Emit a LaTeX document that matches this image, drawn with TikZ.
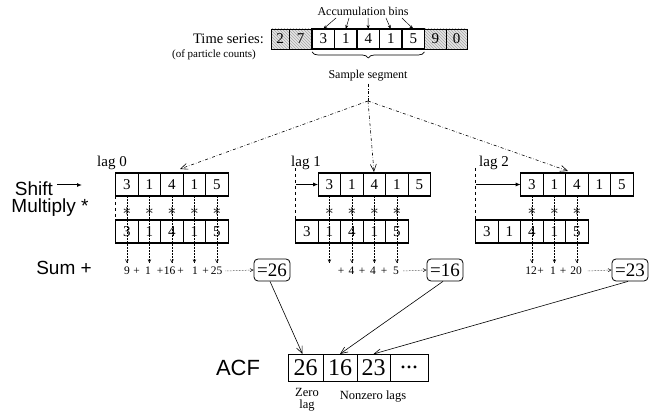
\documentclass[tikz,border=0pt]{standalone}
\usepackage{fontspec}
\setmainfont{Liberation Serif}
\setsansfont{Liberation Sans}
\usetikzlibrary{patterns,decorations.pathreplacing,arrows.meta}
\newcommand{\fsz}[1]{\fontsize{#1}{#1}\selectfont}
\tikzset{
  hcell/.style={draw,line width=0.5pt,preaction={fill=gray!20},pattern=north west lines,pattern color=gray!70,minimum height=20pt,inner sep=0pt,outer sep=0pt,font=\fsz{15}},
  scell/.style={draw,line width=1.1pt,minimum width=22.5pt,minimum height=20pt,inner sep=0pt,outer sep=0pt,font=\fsz{15}},
  cell/.style={draw,line width=1.1pt,minimum width=22.5pt,minimum height=23pt,inner sep=0pt,outer sep=0pt,font=\fsz{15}},
  acfcell/.style={draw,line width=0.8pt,minimum height=27pt,inner sep=0pt,outer sep=0pt,font=\fsz{24}},
  sumbox/.style={draw,line width=0.8pt,rounded corners=4pt,minimum width=36pt,minimum height=22pt,inner sep=1pt,font=\fsz{19}},
  val/.style={inner sep=0pt,font=\fsz{11.5}},
  side/.style={inner sep=1pt,font=\sffamily\fsz{19}},
  lagl/.style={inner sep=0pt,font=\fsz{15}},
  small/.style={inner sep=0pt,font=\fsz{12}},
  accarr/.style={line width=0.5pt,-{Stealth[length=4pt,width=3pt]}},
  shiftarr/.style={line width=1pt,-{Latex[length=5pt,width=4pt]}},
  dotarr/.style={densely dotted,line width=0.5pt,-{Straight Barb[length=3pt,width=3pt]}},
  ddarr/.style={dash dot,line width=0.6pt,-{Straight Barb[length=7pt,width=6pt]}},
  acfarr/.style={line width=0.6pt,-{Straight Barb[length=7pt,width=6pt]}},
  vdash/.style={dashed,line width=0.6pt},
  astk/.style={inner sep=0pt,font=\fsz{16}}
}
\begin{document}
\begin{tikzpicture}[x=1pt,y=-1pt]
\useasboundingbox (0,0) rectangle (649,419);

% time series row
\node[hcell,minimum width=18pt] (ts1) at (280,39) {2};
\node[hcell,minimum width=23pt] (ts2) at (300.5,39) {7};
\foreach \v [count=\i] in {3,1,4,1,5} {
  \pgfmathsetmacro{\xx}{312+11.25+22.5*(\i-1)}
  \node[scell] (seg\i) at (\xx,39) {\v};
}
\node[hcell,minimum width=21.5pt] (ts8) at (435.25,39) {9};
\node[hcell,minimum width=21pt] (ts9) at (456.5,39) {0};

\node[inner sep=0pt,font=\fsz{14.5}] (tslab) at (228.5,39) {Time series:};
\node[inner sep=0pt,font=\fsz{11}] (tssub) at (214,55) {(of particle counts)};

% accumulation bins
\node[small] (acc) at (363,11) {Accumulation bins};
\coordinate (ab1) at (336,18);
\coordinate (ab2) at (349,18);
\coordinate (ab3) at (368,18);
\coordinate (ab4) at (386,18);
\coordinate (ab5) at (402,18);
\foreach \i in {1,...,5} { \draw[accarr] (ab\i) -- (seg\i.north); }

% brace and sample segment
\draw[line width=0.7pt,decorate,decoration={brace,mirror,amplitude=6pt}] (seg1.south west) ++(0,3) coordinate (bl) -- (bl -| seg5.south east);
\node[small] (samp) at (368,76) {Sample segment};
\coordinate (hub) at (368,101);
\draw[dash dot,line width=0.6pt] (samp.south) ++(0,2) -- (hub);

% lag rows
\foreach \lag/\tx/\bx in {0/115.7/115.7, 1/318.2/295.7, 2/520.7/475.7} {
  \foreach \v [count=\i] in {3,1,4,1,5} {
    \pgfmathsetmacro{\xt}{\tx+11.25+22.5*(\i-1)}
    \pgfmathsetmacro{\xb}{\bx+11.25+22.5*(\i-1)}
    \node[cell] (t\lag c\i) at (\xt,184.5) {\v};
    \node[cell] (b\lag c\i) at (\xb,231.5) {\v};
    \coordinate (e\lag c\i) at (\xt,263);
  }
}

\node[lagl] (lag0) at (112,163) {lag 0};
\node[lagl] (lag1) at (306,163) {lag 1};
\node[lagl] (lag2) at (494,163) {lag 2};

% dashed verticals and shift arrows
\draw[vdash] (t0c1.south west) -- (b0c1.north west);
\coordinate (d1) at (295.7,168);
\coordinate (d2) at (475.7,168);
\draw[vdash] (d1) -- (b1c1.north west);
\draw[vdash] (d2) -- (b2c1.north west);
\draw[shiftarr] (d1 |- t1c1.west) -- (t1c1.west);
\draw[shiftarr] (d2 |- t2c1.west) -- (t2c1.west);

% dotted multiply arrows and asterisks
\foreach \i in {1,...,5} {
  \draw[dotarr] (t0c\i.south) -- (e0c\i);
  \node[astk] (s0c\i) at (t0c\i |- 0,211) {$\ast$};
}
\foreach \i in {1,...,4} {
  \draw[dotarr] (t1c\i.south) -- (e1c\i);
  \node[astk] (s1c\i) at (t1c\i |- 0,211) {$\ast$};
}
\foreach \i in {1,...,3} {
  \draw[dotarr] (t2c\i.south) -- (e2c\i);
  \node[astk] (s2c\i) at (t2c\i |- 0,211) {$\ast$};
}

% dash-dot arrows from segment
\coordinate (in0) at (180,169);
\coordinate (in1) at (374,172);
\coordinate (in2) at (568,171);
\draw[ddarr] (hub) -- (in0);
\draw[ddarr] (hub) -- (in1);
\draw[ddarr] (hub) -- (in2);

% sum values
\node[val] (v01) at (127,271) {9};
\node[val] (p01) at (136.5,271) {+};
\node[val] (v02) at (148,271) {1};
\node[val] (p02) at (160,271) {+};
\node[val] (v03) at (169.5,271) {16};
\node[val] (p03) at (180.5,271) {+};
\node[val] (v04) at (195,271) {1};
\node[val] (p04) at (205.5,271) {+};
\node[val] (v05) at (216.7,271) {25};

\node[val] (p11) at (341,271) {+};
\node[val] (v12) at (351.5,271) {4};
\node[val] (p12) at (362,271) {+};
\node[val] (v13) at (373,271) {4};
\node[val] (p13) at (384,271) {+};
\node[val] (v14) at (396,271) {5};

\node[val] (v21) at (531,271) {12};
\node[val] (p21) at (540.5,271) {+};
\node[val] (v22) at (553,271) {1};
\node[val] (p22) at (563,271) {+};
\node[val] (v23) at (576,271) {20};

\node[sumbox] (r0) at (272,270) {=26};
\node[sumbox] (r1) at (445,270) {=16};
\node[sumbox] (r2) at (630,270) {=23};

\draw[dotarr] ([xshift=3pt]v05.east) -- (r0.west);
\draw[dotarr] ([xshift=4pt]v14.east) -- (r1.west);
\draw[dotarr] ([xshift=6pt]v23.east) -- (r2.west);

% side labels
\node[side] (shift) at (34,189) {Shift};
\coordinate (shiftst) at (57,185);
\coordinate (shiftend) at (82,185);
\draw[shiftarr] (shiftst) -- (shiftend);
\node[side] (mult) at (50,208) {Multiply *};
\node[side] (sum) at (64,268) {Sum +};

% ACF
\node[inner sep=0pt,font=\sffamily\fsz{22}] (acflab) at (238,368) {ACF};
\node[acfcell,minimum width=35pt] (a1) at (305.5,367.5) {26};
\node[acfcell,minimum width=34pt] (a2) at (340,367.5) {16};
\node[acfcell,minimum width=33pt] (a3) at (373.5,367.5) {23};
\node[acfcell,minimum width=38pt] (a4) at (409,367.5) {.{}.{}.};

\node[inner sep=0pt,font=\fsz{12.5},align=center] (zl) at (307,400) {Zero\\[-1pt]lag};
\node[inner sep=0pt,font=\fsz{12.5}] (nzl) at (373,397) {Nonzero lags};

\draw[acfarr] ([xshift=-2pt]r0.south) -- ([xshift=-3pt]a1.north);
\draw[acfarr] ([xshift=-2pt]r1.south) -- (a2.north);
\draw[acfarr] ([xshift=-2pt]r2.south) -- (a3.north);
\end{tikzpicture}
\end{document}
